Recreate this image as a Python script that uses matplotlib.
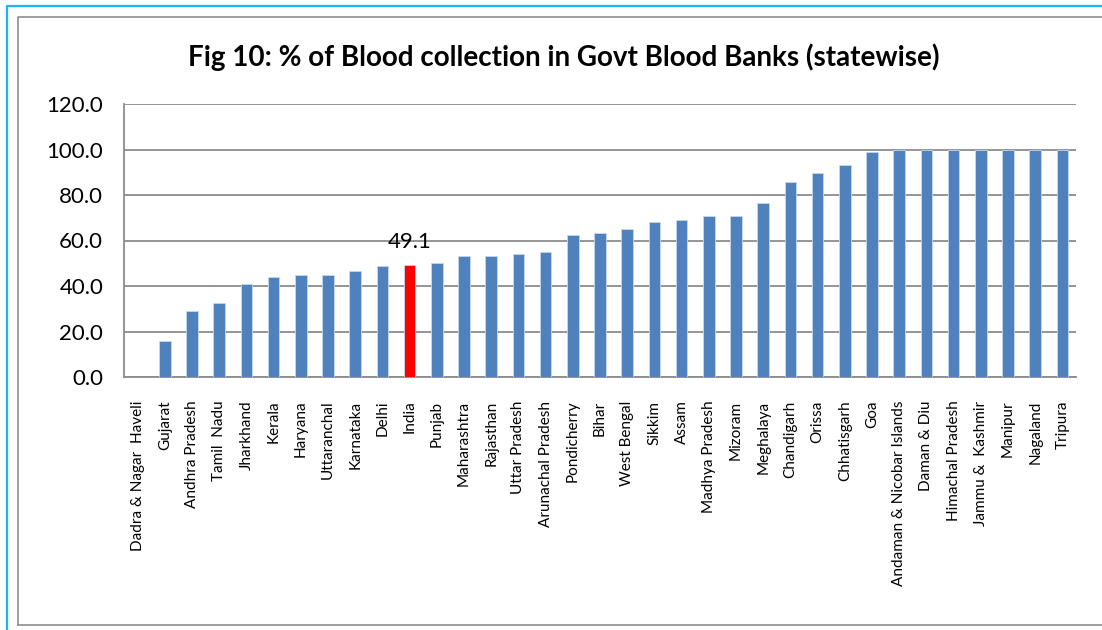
import matplotlib
matplotlib.use("Agg")
import matplotlib.pyplot as plt
from matplotlib.lines import Line2D
import numpy as np

plt.rcParams["font.family"] = ["Lato", "DejaVu Sans"]

# ── Data ─────────────────────────────────────────────────────────────────────
states = [
    "Dadra & Nagar  Haveli", "Gujarat", "Andhra Pradesh", "Tamil  Nadu",
    "Jharkhand", "Kerala", "Haryana", "Uttaranchal", "Karnataka", "Delhi",
    "India", "Punjab", "Maharashtra", "Rajasthan", "Uttar Pradesh",
    "Arunachal Pradesh", "Pondicherry", "Bihar", "West Bengal", "Sikkim",
    "Assam", "Madhya Pradesh", "Mizoram", "Meghalaya", "Chandigarh", "Orissa",
    "Chhatisgarh", "Goa", "Andaman & Nicobar Islands", "Daman & Diu",
    "Himachal Pradesh", "Jammu &  Kashmir", "Manipur", "Nagaland", "Tripura",
]
pct_govt = [
    0.0, 16.0, 29.1, 32.6, 40.8, 44.1, 44.9, 44.9, 46.5, 49.0,
    49.1, 49.9, 53.3, 53.3, 54.2, 54.9, 62.4, 63.3, 64.9, 68.1,
    69.0, 70.6, 70.6, 76.4, 85.6, 89.7, 93.0, 98.8, 100.0, 100.0,
    100.0, 100.0, 100.0, 100.0, 100.0,
]
highlight = "India"
yticks = [0, 20, 40, 60, 80, 100, 120]

W, H = 1102, 630
fig = plt.figure(figsize=(W / 100, H / 100), dpi=100)
ax = fig.add_axes([124 / W, (H - 377) / H, (1076 - 124) / W, (377 - 104) / H])

x = np.arange(len(states))
colors = ["#FF0000" if s == highlight else "#4F81BD" for s in states]
ax.bar(x, pct_govt, width=0.42, color=colors, edgecolor="#C6D7EC",
       linewidth=0.6, zorder=3)

i_hl = states.index(highlight)
ax.text(x[i_hl], pct_govt[i_hl] + 6, f"{pct_govt[i_hl]:.1f}", ha="center",
        va="bottom", fontsize=16)

ax.set_xlim(-0.5, len(states) - 0.5)
ax.set_ylim(0, 120)
ax.set_yticks(yticks)
ax.set_yticklabels([f"{v:.1f}" for v in yticks], fontsize=16)
ax.set_xticks(x)
ax.set_xticklabels(states, rotation=90, fontsize=11)
ax.tick_params(axis="y", length=0, pad=15)
ax.tick_params(axis="x", length=0, pad=17)
ax.grid(axis="y", color="#8C8C8C", linewidth=1.3, zorder=0)
for side in ["top", "right"]:
    ax.spines[side].set_visible(False)
for side in ["left", "bottom"]:
    ax.spines[side].set_color("#8C8C8C")
    ax.spines[side].set_linewidth(1.3)

fig.text(564 / W, (H - 57) / H,
         "Fig 10: % of Blood collection in Govt Blood Banks (statewise)",
         ha="center", va="center", fontsize=20, fontweight="bold")

# outer frames
def fig_line(xs, ys, color, lw):
    fig.add_artist(Line2D([v / W for v in xs], [(H - v) / H for v in ys],
                          color=color, linewidth=lw))

fig_line([7, 7, W], [H, 6, 6], "#1FB5F0", 1.6)
fig_line([18, 18, W], [625, 17, 17], "#8C8C8C", 1.2)
fig_line([18, W], [625, 625], "#8C8C8C", 1.2)

fig.savefig("out.png", dpi=100)
